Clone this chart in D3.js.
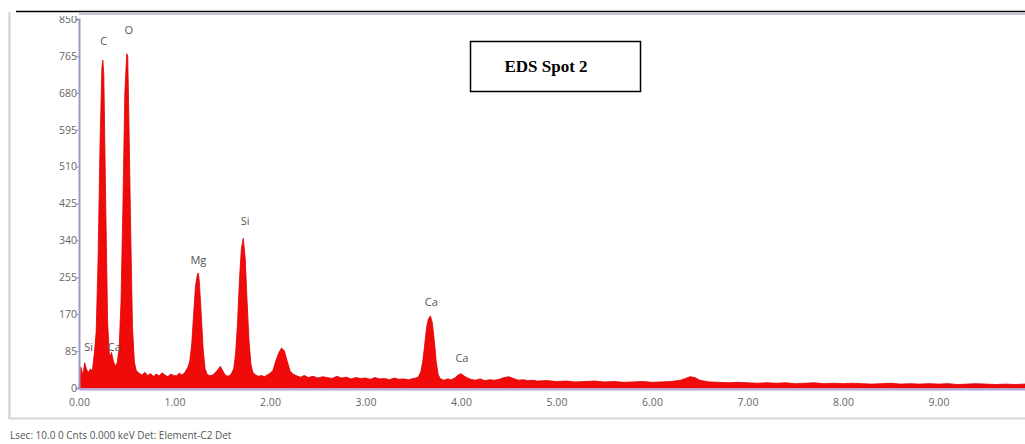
<!DOCTYPE html>
<html>
<head>
<meta charset="utf-8">
<script src="https://cdn.jsdelivr.net/npm/d3@7"></script>
<style>
  body { margin: 0; background: #fff; }
  svg { display: block; }
</style>
</head>
<body>
<div id="chart"></div>
<script>

// spectrum (keV, counts)
var energy = [
  0.00, 0.02, 0.04, 0.06, 0.08, 0.10, 0.12, 0.14, 0.16, 0.18, 0.20, 0.22, 0.24, 0.25, 0.26, 0.28,
  0.30, 0.32, 0.34, 0.36, 0.38, 0.40, 0.42, 0.44, 0.46, 0.48, 0.50, 0.51, 0.52, 0.54, 0.56, 0.58,
  0.60, 0.63, 0.66, 0.69, 0.72, 0.75, 0.78, 0.81, 0.84, 0.87, 0.90, 0.93, 0.96, 0.99, 1.02, 1.05,
  1.08, 1.11, 1.14, 1.16, 1.18, 1.20, 1.22, 1.24, 1.25, 1.26, 1.28, 1.30, 1.32, 1.34, 1.37, 1.40,
  1.43, 1.46, 1.48, 1.50, 1.53, 1.56, 1.59, 1.62, 1.64, 1.66, 1.68, 1.70, 1.72, 1.74, 1.76, 1.78,
  1.80, 1.82, 1.85, 1.88, 1.91, 1.94, 1.97, 2.00, 2.03, 2.06, 2.09, 2.12, 2.15, 2.18, 2.21, 2.24,
  2.28, 2.32, 2.36, 2.40, 2.45, 2.50, 2.55, 2.60, 2.65, 2.70, 2.75, 2.80, 2.85, 2.90, 2.95, 3.00,
  3.05, 3.10, 3.15, 3.20, 3.25, 3.30, 3.35, 3.40, 3.45, 3.50, 3.55, 3.58, 3.60, 3.62, 3.64, 3.66,
  3.68, 3.70, 3.72, 3.74, 3.76, 3.78, 3.82, 3.86, 3.90, 3.94, 3.97, 4.00, 4.03, 4.06, 4.10, 4.15,
  4.20, 4.25, 4.30, 4.35, 4.40, 4.45, 4.50, 4.55, 4.60, 4.65, 4.70, 4.75, 4.80, 4.90, 5.00, 5.10,
  5.20, 5.30, 5.40, 5.50, 5.60, 5.70, 5.80, 5.90, 6.00, 6.10, 6.20, 6.30, 6.35, 6.40, 6.45, 6.50,
  6.60, 6.70, 6.80, 6.90, 7.00, 7.10, 7.20, 7.30, 7.40, 7.50, 7.60, 7.70, 7.80, 7.90, 8.00, 8.10,
  8.20, 8.30, 8.40, 8.50, 8.60, 8.70, 8.80, 8.90, 9.00, 9.10, 9.20, 9.30, 9.40, 9.50, 9.60, 9.70,
  9.80, 9.90, 10.00
];
var counts = [
  0, 48, 30, 58, 42, 36, 44, 40, 78, 130, 300, 560, 740, 755, 720, 420,
  150, 70, 82, 62, 50, 58, 90, 200, 420, 680, 770, 765, 650, 380, 140, 60,
  40, 34, 30, 36, 29, 33, 27, 32, 28, 35, 30, 26, 32, 29, 28, 34,
  30, 36, 48, 62, 100, 170, 235, 262, 265, 245, 170, 90, 45, 32, 28, 30,
  36, 44, 50, 42, 30, 27, 31, 44, 80, 150, 250, 320, 345, 300, 200, 110,
  55, 36, 30, 27, 29, 26, 30, 34, 40, 62, 80, 92, 86, 62, 40, 32,
  28, 25, 29, 24, 27, 23, 26, 24, 22, 27, 23, 25, 21, 24, 22, 23,
  20, 24, 21, 22, 19, 23, 20, 21, 19, 22, 24, 38, 62, 100, 140, 160,
  166, 150, 110, 62, 32, 22, 18, 21, 19, 24, 30, 33, 28, 24, 20, 18,
  21, 17, 19, 18, 20, 24, 26, 22, 18, 19, 17, 18, 16, 17, 15, 16,
  14, 15, 16, 14, 15, 13, 14, 15, 13, 14, 15, 18, 22, 26, 24, 18,
  14, 13, 12, 13, 12, 11, 12, 11, 12, 10, 11, 12, 10, 11, 10, 11,
  10, 9, 10, 11, 9, 10, 9, 10, 9, 10, 8, 9, 10, 9, 8, 9,
  8, 9, 8
];

// element markers
var peakLabels = ["Si", "Ca", "C", "O", "Mg", "Si", "Ca", "Ca"];
var peakEnergy = [0.10, 0.37, 0.26, 0.52, 1.25, 1.74, 3.69, 4.01];
var peakCount  = [85, 85, 790, 815, 285, 375, 190, 60];

var yTicks = [0, 85, 170, 255, 340, 425, 510, 595, 680, 765, 850];
var xTicks = [0, 1, 2, 3, 4, 5, 6, 7, 8, 9];

var title = "EDS Spot 2";
var footer = "Lsec: 10.0 0 Cnts  0.000 keV Det: Element-C2 Det";

var width = 1025, height = 444;
var left = 79, right = 1034, top = 14, bottom = 388;

var svg = d3.select("#chart").append("svg")
    .attr("width", width)
    .attr("height", height);

var x = d3.scaleLinear().domain([0, 10]).range([left, right]);
var y = d3.scaleLinear().domain([0, 850]).range([bottom, bottom - 369]);

// outer grey frame
svg.append("rect")
    .attr("x", 9.5).attr("y", 12.5)
    .attr("width", 1030).attr("height", 406)
    .attr("fill", "none")
    .attr("stroke", "#d6d6d6")
    .attr("stroke-width", 2);

// spectrum area
var data = energy.map(function(e, i) { return {e: e, c: counts[i]}; });

var area = d3.area()
    .x(function(d) { return x(d.e); })
    .y0(y(0))
    .y1(function(d) { return y(d.c); });

svg.append("path")
    .datum(data)
    .attr("d", area)
    .attr("fill", "#f00a0a")
    .attr("stroke", "#e00000")
    .attr("stroke-width", 0.8);

// axes
var yAxis = d3.axisLeft(y).tickValues(yTicks).tickSize(3).tickFormat(d3.format("d"));
var gy = svg.append("g")
    .attr("transform", "translate(" + left + ",0)")
    .call(yAxis);
gy.select(".domain").attr("stroke", "#9a9ac8").attr("stroke-width", 2);
gy.selectAll(".tick line").attr("stroke", "#9a9ac8");
gy.selectAll("text")
    .attr("fill", "#666")
    .attr("font-family", "'Open Sans', sans-serif")
    .attr("font-size", 10.5)
    .attr("x", -2);

var xAxis = d3.axisBottom(x).tickValues(xTicks).tickSize(0).tickFormat(d3.format(".2f"));
var gx = svg.append("g")
    .attr("transform", "translate(0," + (bottom + 1) + ")")
    .call(xAxis);
gx.select(".domain").attr("stroke", "#a8a8dc").attr("stroke-width", 2);
gx.selectAll("text")
    .attr("fill", "#666")
    .attr("font-family", "'Open Sans', sans-serif")
    .attr("font-size", 10.5)
    .attr("dy", "1.3em");

// cover the cut off top label and draw top borders
svg.append("rect")
    .attr("x", 0).attr("y", 0)
    .attr("width", width).attr("height", 16)
    .attr("fill", "#fff");
svg.append("line")
    .attr("x1", left).attr("x2", width)
    .attr("y1", 14).attr("y2", 14)
    .attr("stroke", "#c4c4dc")
    .attr("stroke-width", 2);
svg.append("line")
    .attr("x1", 16).attr("x2", width)
    .attr("y1", 11.5).attr("y2", 11.5)
    .attr("stroke", "#000")
    .attr("stroke-width", 1.5);
svg.append("line")
    .attr("x1", 9.5).attr("x2", 9.5)
    .attr("y1", 12).attr("y2", 419)
    .attr("stroke", "#d6d6d6")
    .attr("stroke-width", 2);

// element labels
svg.selectAll(".peak")
    .data(peakLabels)
    .enter()
    .append("text")
    .attr("class", "peak")
    .attr("x", function(d, i) { return x(peakEnergy[i]); })
    .attr("y", function(d, i) { return y(peakCount[i]); })
    .attr("text-anchor", "middle")
    .attr("fill", "#555")
    .attr("font-family", "'Open Sans', sans-serif")
    .attr("font-size", 11)
    .text(function(d) { return d; });

// title box
svg.append("rect")
    .attr("x", 470.5).attr("y", 41.5)
    .attr("width", 170).attr("height", 50)
    .attr("fill", "#fff")
    .attr("stroke", "#000")
    .attr("stroke-width", 1.5);
svg.append("text")
    .attr("x", 546).attr("y", 72)
    .attr("text-anchor", "middle")
    .attr("font-family", "'Liberation Serif', serif")
    .attr("font-weight", "bold")
    .attr("font-size", 17)
    .text(title);

// footer
svg.append("text")
    .attr("x", 10).attr("y", 439)
    .attr("fill", "#555")
    .attr("font-family", "'Open Sans', sans-serif")
    .attr("font-size", 10)
    .text(footer);

</script>
</body>
</html>
